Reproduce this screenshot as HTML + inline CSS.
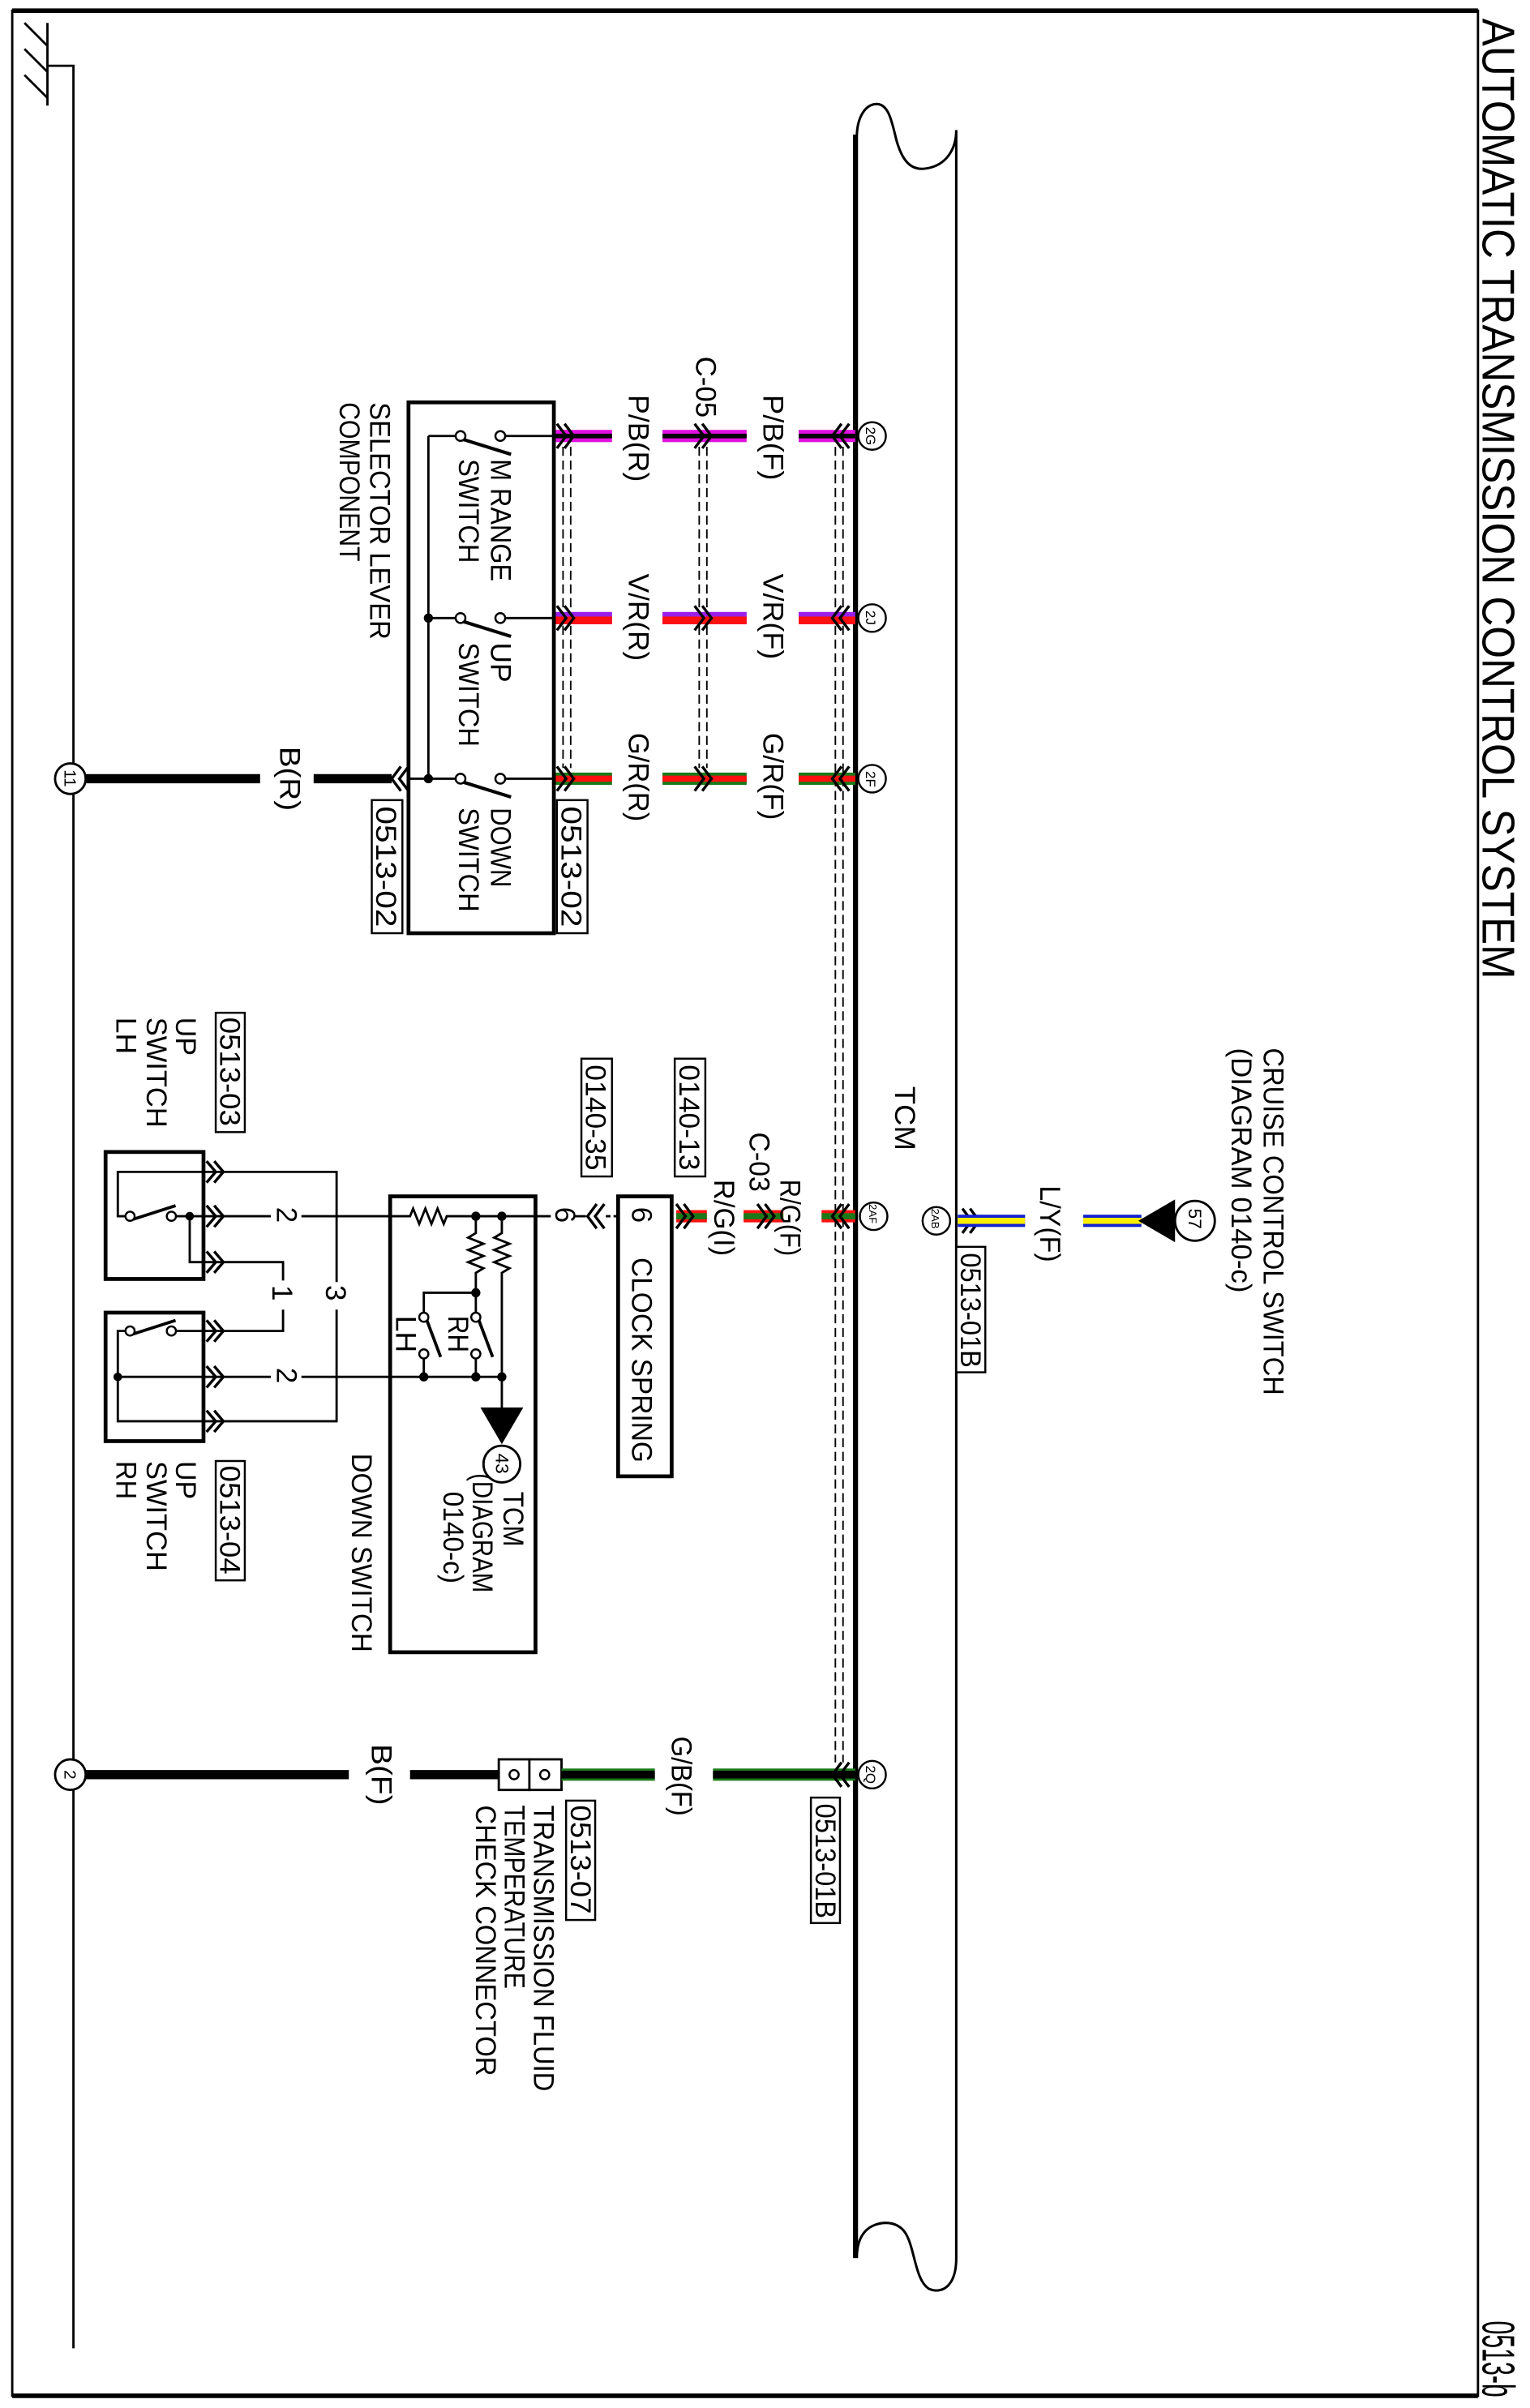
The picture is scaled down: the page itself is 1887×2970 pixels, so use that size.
<!DOCTYPE html>
<html><head><meta charset="utf-8"><style>
html,body{margin:0;padding:0;background:#fff;}
svg{display:block;}
text{font-family:"Liberation Sans",Arial,sans-serif;font-size:18.5px;fill:#000;}
.s{font-size:9px;}
.ln{stroke:#000;stroke-width:1.5;fill:none;}
.dsh{stroke:#000;stroke-width:1;stroke-dasharray:6,3;fill:none;}
.ch{stroke:#000;stroke-width:1.8;fill:none;}
</style></head><body>
<svg width="1887" height="2970" viewBox="0 0 1000 1574" preserveAspectRatio="none" xmlns="http://www.w3.org/2000/svg">
<!-- frame -->
<rect x="8" y="7" width="958" height="1559" fill="none" stroke="#000" stroke-width="1.5"/>
<line x1="8" y1="7" x2="966" y2="7" stroke="#000" stroke-width="3"/>
<line x1="8" y1="1566" x2="966" y2="1566" stroke="#000" stroke-width="3"/>
<!-- title -->
<text transform="translate(969,12) rotate(90)" style="font-size:30px" textLength="628" lengthAdjust="spacingAndGlyphs">AUTOMATIC TRANSMISSION CONTROL SYSTEM</text>
<text transform="translate(969,1517) rotate(90)" style="font-size:30px" textLength="50" lengthAdjust="spacingAndGlyphs">0513-b</text>
<!-- ground -->
<line class="ln" x1="31" y1="15" x2="31" y2="69"/>
<line class="ln" x1="16" y1="15" x2="31" y2="30"/>
<line class="ln" x1="16" y1="32" x2="31" y2="47"/>
<line class="ln" x1="16" y1="49" x2="31" y2="64"/>
<polyline class="ln" points="31,43 48,43 48,1535"/>
<!-- TCM bus -->
<path d="M560,1476 L560,90 C560,76 566,68 573,68 C581,68 583,80 586,92 C590,106 596,112 606,110 C618,108 625,98 625,85 L625,1476 C625,1494 616,1500 607,1496 C598,1490 598,1470 592,1460 C586,1450 572,1452 566,1458 C561,1463 560,1470 560,1476" fill="none" stroke="#000" stroke-width="1.6"/>
<line x1="559" y1="88" x2="559" y2="1476" stroke="#000" stroke-width="3"/>
<text transform="translate(585,710) rotate(90)" textLength="42" lengthAdjust="spacingAndGlyphs">TCM</text>
<!-- shield dashed -->
<line class="dsh" x1="546" y1="292" x2="546" y2="1152"/>
<line class="dsh" x1="551" y1="292" x2="551" y2="1152"/>
<line class="dsh" x1="368" y1="292" x2="368" y2="502"/>
<line class="dsh" x1="373" y1="292" x2="373" y2="502"/>
<line class="dsh" x1="457" y1="292" x2="457" y2="502"/>
<line class="dsh" x1="462" y1="292" x2="462" y2="502"/>

<!-- selector lever wires -->
<g>
<rect x="363" y="281" width="37" height="8" fill="#e010e0"/><rect x="363" y="283.5" width="37" height="3" fill="#000"/>
<rect x="433" y="281" width="55" height="8" fill="#e010e0"/><rect x="433" y="283.5" width="55" height="3" fill="#000"/>
<rect x="522" y="281" width="37" height="8" fill="#e010e0"/><rect x="522" y="283.5" width="37" height="3" fill="#000"/>
</g>
<g>
<rect x="363" y="400" width="37" height="8" fill="#9a1ee8"/><rect x="363" y="403" width="37" height="5" fill="#ff1010"/>
<rect x="433" y="400" width="55" height="8" fill="#9a1ee8"/><rect x="433" y="403" width="55" height="5" fill="#ff1010"/>
<rect x="522" y="400" width="37" height="8" fill="#9a1ee8"/><rect x="522" y="403" width="37" height="5" fill="#ff1010"/>
</g>
<g>
<rect x="363" y="505" width="37" height="8" fill="#1a7a1a"/><rect x="363" y="507" width="37" height="4" fill="#ff1010"/>
<rect x="433" y="505" width="55" height="8" fill="#1a7a1a"/><rect x="433" y="507" width="55" height="4" fill="#ff1010"/>
<rect x="522" y="505" width="37" height="8" fill="#1a7a1a"/><rect x="522" y="507" width="37" height="4" fill="#ff1010"/>
</g>
<g class="ch">
<polyline points="364,277 370,285 364,293"/><polyline points="369,277 375,285 369,293"/>
<polyline points="454,277 460,285 454,293"/><polyline points="459,277 465,285 459,293"/>
<polyline points="550,277 544,285 550,293"/><polyline points="555,277 549,285 555,293"/>
<polyline points="364,396 370,404 364,412"/><polyline points="369,396 375,404 369,412"/>
<polyline points="454,396 460,404 454,412"/><polyline points="459,396 465,404 459,412"/>
<polyline points="550,396 544,404 550,412"/><polyline points="555,396 549,404 555,412"/>
<polyline points="364,501 370,509 364,517"/><polyline points="369,501 375,509 369,517"/>
<polyline points="454,501 460,509 454,517"/><polyline points="459,501 465,509 459,517"/>
<polyline points="550,501 544,509 550,517"/><polyline points="555,501 549,509 555,517"/>
<polyline points="262,501 256,509 262,517"/><polyline points="267,501 261,509 267,517"/>
</g>
<text transform="translate(411,258) rotate(90)" textLength="57" lengthAdjust="spacingAndGlyphs">P/B(R)</text>
<text transform="translate(499,258) rotate(90)" textLength="56" lengthAdjust="spacingAndGlyphs">P/B(F)</text>
<text transform="translate(455,233) rotate(90)" textLength="40" lengthAdjust="spacingAndGlyphs">C-05</text>
<text transform="translate(411,375) rotate(90)" textLength="57" lengthAdjust="spacingAndGlyphs">V/R(R)</text>
<text transform="translate(499,375) rotate(90)" textLength="56" lengthAdjust="spacingAndGlyphs">V/R(F)</text>
<text transform="translate(411,479) rotate(90)" textLength="58" lengthAdjust="spacingAndGlyphs">G/R(R)</text>
<text transform="translate(499,479) rotate(90)" textLength="57" lengthAdjust="spacingAndGlyphs">G/R(F)</text>
<g fill="#fff" stroke="#000" stroke-width="1.3">
<circle cx="570" cy="285" r="9"/><circle cx="570" cy="404" r="9"/><circle cx="570" cy="509" r="9"/>
<circle cx="571" cy="795" r="9"/><circle cx="612" cy="798" r="9"/><circle cx="570" cy="1160" r="9"/>
</g>
<text class="s" transform="translate(566,279) rotate(90)">2G</text>
<text class="s" transform="translate(566,399) rotate(90)">2J</text>
<text class="s" transform="translate(566,504) rotate(90)">2F</text>
<text class="s" transform="translate(568,787) rotate(90)" style="font-size:7px">2AF</text>
<text class="s" transform="translate(609,790) rotate(90)" style="font-size:7px">2AB</text>
<text class="s" transform="translate(566,1154) rotate(90)">2Q</text>

<!-- selector box -->
<rect x="267" y="263" width="95" height="347" fill="none" stroke="#000" stroke-width="2.5"/>
<line class="ln" x1="280" y1="285" x2="280" y2="509"/>
<g class="ln">
<line x1="280" y1="285" x2="298" y2="285"/><line x1="330" y1="285" x2="362" y2="285"/>
<line x1="280" y1="404" x2="298" y2="404"/><line x1="330" y1="404" x2="362" y2="404"/>
<line x1="267" y1="509" x2="298" y2="509"/><line x1="330" y1="509" x2="362" y2="509"/>
<line x1="302" y1="287" x2="334" y2="297" stroke-width="2.2"/>
<line x1="302" y1="406" x2="334" y2="416" stroke-width="2.2"/>
<line x1="302" y1="511" x2="334" y2="521" stroke-width="2.2"/>
</g>
<g fill="#fff" stroke="#000" stroke-width="1.3">
<circle cx="301" cy="285" r="3.2"/><circle cx="327" cy="285" r="3.2"/>
<circle cx="301" cy="404" r="3.2"/><circle cx="327" cy="404" r="3.2"/>
<circle cx="301" cy="509" r="3.2"/><circle cx="327" cy="509" r="3.2"/>
</g>
<circle cx="280" cy="404" r="3" fill="#000"/><circle cx="280" cy="509" r="3" fill="#000"/>
<text transform="translate(321,300) rotate(90)" textLength="80" lengthAdjust="spacingAndGlyphs">M RANGE</text>
<text transform="translate(300,300) rotate(90)" textLength="68" lengthAdjust="spacingAndGlyphs">SWITCH</text>
<text transform="translate(321,420) rotate(90)" textLength="26" lengthAdjust="spacingAndGlyphs">UP</text>
<text transform="translate(300,420) rotate(90)" textLength="68" lengthAdjust="spacingAndGlyphs">SWITCH</text>
<text transform="translate(321,528) rotate(90)" textLength="52" lengthAdjust="spacingAndGlyphs">DOWN</text>
<text transform="translate(300,528) rotate(90)" textLength="68" lengthAdjust="spacingAndGlyphs">SWITCH</text>
<text transform="translate(242,263) rotate(90)" textLength="155" lengthAdjust="spacingAndGlyphs">SELECTOR LEVER</text>
<text transform="translate(222,263) rotate(90)" textLength="104" lengthAdjust="spacingAndGlyphs">COMPONENT</text>
<rect x="243" y="523" width="20" height="87" fill="#fff" stroke="#000" stroke-width="1.3"/>
<text transform="translate(246,527) rotate(90)" textLength="79" lengthAdjust="spacingAndGlyphs">0513-02</text>
<rect x="364" y="523" width="20" height="87" fill="#fff" stroke="#000" stroke-width="1.3"/>
<text transform="translate(367,527) rotate(90)" textLength="79" lengthAdjust="spacingAndGlyphs">0513-02</text>
<line x1="48" y1="509" x2="170" y2="509" stroke="#000" stroke-width="6"/>
<line x1="205" y1="509" x2="256" y2="509" stroke="#000" stroke-width="6"/>
<text transform="translate(183,488) rotate(90)" textLength="42" lengthAdjust="spacingAndGlyphs">B(R)</text>
<circle cx="46" cy="509" r="10" fill="#fff" stroke="#000" stroke-width="1.5"/>
<text class="s" transform="translate(42,503) rotate(90)" style="font-size:11px">11</text>

<!-- cruise / 2AB -->
<g class="ch">
<polyline points="629,790 635,798 629,806"/><polyline points="634,790 640,798 634,806"/>
</g>
<rect x="626" y="794" width="44" height="8" fill="#1020d0"/><rect x="626" y="796" width="44" height="4" fill="#ffee00"/>
<rect x="708" y="794" width="38" height="8" fill="#1020d0"/><rect x="708" y="796" width="38" height="4" fill="#ffee00"/>
<polygon points="744,798 768,784 768,812" fill="#000"/>
<circle cx="781" cy="798" r="13" fill="#fff" stroke="#000" stroke-width="1.5"/>
<text transform="translate(777,790) rotate(90)" style="font-size:12px">57</text>
<text transform="translate(680,775) rotate(90)" textLength="50" lengthAdjust="spacingAndGlyphs">L/Y(F)</text>
<rect x="625" y="815" width="19" height="82" fill="#fff" stroke="#000" stroke-width="1.3"/>
<text transform="translate(628,819) rotate(90)" textLength="75" lengthAdjust="spacingAndGlyphs">0513-01B</text>
<text transform="translate(826,685) rotate(90)" textLength="227" lengthAdjust="spacingAndGlyphs">CRUISE CONTROL SWITCH</text>
<text transform="translate(805,685) rotate(90)" textLength="160" lengthAdjust="spacingAndGlyphs">(DIAGRAM 0140-c)</text>

<!-- R/G 2AF -->
<rect x="442" y="791" width="20" height="8" fill="#ff1010"/><rect x="442" y="793" width="20" height="4" fill="#1a7a1a"/>
<rect x="486" y="791" width="26" height="8" fill="#ff1010"/><rect x="486" y="793" width="26" height="4" fill="#1a7a1a"/>
<rect x="537" y="791" width="22" height="8" fill="#ff1010"/><rect x="537" y="793" width="22" height="4" fill="#1a7a1a"/>
<g class="ch">
<polyline points="442,787 448,795 442,803"/><polyline points="447,787 453,795 447,803"/>
<polyline points="495,787 501,795 495,803"/><polyline points="500,787 506,795 500,803"/>
<polyline points="550,787 544,795 550,803"/><polyline points="555,787 549,795 555,803"/>
<polyline points="390,787 384,795 390,803"/><polyline points="395,787 389,795 395,803"/>
</g>
<text transform="translate(510,771) rotate(90)" textLength="50" lengthAdjust="spacingAndGlyphs">R/G(F)</text>
<text transform="translate(490,740) rotate(90)" textLength="39" lengthAdjust="spacingAndGlyphs">C-03</text>
<text transform="translate(467,771) rotate(90)" textLength="50" lengthAdjust="spacingAndGlyphs">R/G(I)</text>
<rect x="441" y="692" width="20" height="77" fill="#fff" stroke="#000" stroke-width="1.3"/>
<text transform="translate(444,696) rotate(90)" textLength="69" lengthAdjust="spacingAndGlyphs">0140-13</text>
<rect x="380" y="692" width="20" height="77" fill="#fff" stroke="#000" stroke-width="1.3"/>
<text transform="translate(383,696) rotate(90)" textLength="69" lengthAdjust="spacingAndGlyphs">0140-35</text>
<rect x="404" y="782" width="35" height="183" fill="none" stroke="#000" stroke-width="2.5"/>
<text transform="translate(413,789) rotate(90)">6</text>
<text transform="translate(413,822) rotate(90)" textLength="134" lengthAdjust="spacingAndGlyphs">CLOCK SPRING</text>
<text transform="translate(363,789) rotate(90)">6</text>
<line class="ln" x1="375" y1="795" x2="383" y2="795"/>
<line class="ln" x1="396" y1="795" x2="404" y2="795" stroke-dasharray="3,2"/>
<!-- down switch -->
<rect x="255" y="782" width="95" height="298" fill="none" stroke="#000" stroke-width="2.5"/>
<polyline class="ln" points="133,795 177,795"/>
<polyline class="ln" points="197,795 268,795 270,790 274,800 278,790 282,800 286,790 290,800 292,795 360,795"/>
<circle cx="311" cy="795" r="3" fill="#000"/><circle cx="328" cy="795" r="3" fill="#000"/>
<polyline class="ln" points="311,795 311,806 306,809 316,813 306,817 316,821 306,825 316,829 311,832 311,845"/>
<polyline class="ln" points="328,795 328,806 323,809 333,813 323,817 333,821 323,825 333,829 328,832 328,900 328,920"/>
<circle cx="311" cy="845" r="3" fill="#000"/>
<polyline class="ln" points="311,845 277,845 277,858"/>
<line class="ln" x1="311" y1="845" x2="311" y2="858"/>
<g fill="#fff" stroke="#000" stroke-width="1.3">
<circle cx="277" cy="861" r="3"/><circle cx="277" cy="885" r="3"/>
<circle cx="311" cy="861" r="3"/><circle cx="311" cy="885" r="3"/>
</g>
<line x1="279" y1="863" x2="288" y2="887" stroke="#000" stroke-width="2"/>
<line x1="313" y1="863" x2="322" y2="887" stroke="#000" stroke-width="2"/>
<line class="ln" x1="277" y1="888" x2="277" y2="900"/>
<line class="ln" x1="311" y1="888" x2="311" y2="900"/>
<polyline class="ln" points="133,900 177,900"/>
<polyline class="ln" points="197,900 328,900"/>
<circle cx="277" cy="900" r="3" fill="#000"/><circle cx="311" cy="900" r="3" fill="#000"/><circle cx="328" cy="900" r="3" fill="#000"/>
<polygon points="314,920 342,920 328,944" fill="#000"/>
<circle cx="328" cy="957" r="12" fill="#fff" stroke="#000" stroke-width="1.5"/>
<text transform="translate(324,950) rotate(90)" style="font-size:12px">43</text>
<text transform="translate(293,860) rotate(90)" textLength="24" lengthAdjust="spacingAndGlyphs">RH</text>
<text transform="translate(259,860) rotate(90)" textLength="24" lengthAdjust="spacingAndGlyphs">LH</text>
<text transform="translate(329,975) rotate(90)" textLength="36" lengthAdjust="spacingAndGlyphs">TCM</text>
<text transform="translate(309,963) rotate(90)" textLength="78" lengthAdjust="spacingAndGlyphs">(DIAGRAM</text>
<text transform="translate(290,975) rotate(90)" textLength="60" lengthAdjust="spacingAndGlyphs">0140-c)</text>
<text transform="translate(230,950) rotate(90)" textLength="130" lengthAdjust="spacingAndGlyphs">DOWN SWITCH</text>
<!-- up switches -->
<rect x="69" y="753" width="64" height="83" fill="none" stroke="#000" stroke-width="2.5"/>
<rect x="69" y="858" width="64" height="84" fill="none" stroke="#000" stroke-width="2.5"/>
<polyline class="ln" points="133,766 220,766 220,838"/>
<polyline class="ln" points="220,856 220,929 133,929"/>
<polyline class="ln" points="133,825 185,825 185,837"/>
<polyline class="ln" points="185,856 185,870 133,870"/>
<polyline class="ln" points="133,766 77,766 77,795 82,795"/>
<line class="ln" x1="112" y1="795" x2="133" y2="795"/>
<circle cx="124" cy="795" r="2.8" fill="#000"/>
<polyline class="ln" points="124,795 124,825 133,825"/>
<line x1="87" y1="797" x2="114" y2="808" stroke="#000" stroke-width="2" transform="rotate(-40 87 797)"/>
<g fill="#fff" stroke="#000" stroke-width="1.3"><circle cx="85" cy="795" r="3"/><circle cx="112" cy="795" r="3"/></g>
<line class="ln" x1="112" y1="870" x2="133" y2="870"/>
<polyline class="ln" points="82,870 77,870 77,929 133,929"/>
<line class="ln" x1="77" y1="900" x2="133" y2="900"/>
<circle cx="77" cy="900" r="2.8" fill="#000"/>
<line x1="87" y1="872" x2="114" y2="883" stroke="#000" stroke-width="2" transform="rotate(-40 87 872)"/>
<g fill="#fff" stroke="#000" stroke-width="1.3"><circle cx="85" cy="870" r="3"/><circle cx="112" cy="870" r="3"/></g>
<g class="ch">
<polyline points="135,759 141,766 135,773"/><polyline points="140,759 146,766 140,773"/>
<polyline points="135,788 141,795 135,802"/><polyline points="140,788 146,795 140,802"/>
<polyline points="135,818 141,825 135,832"/><polyline points="140,818 146,825 140,832"/>
<polyline points="135,863 141,870 135,877"/><polyline points="140,863 146,870 140,877"/>
<polyline points="135,893 141,900 135,907"/><polyline points="140,893 146,900 140,907"/>
<polyline points="135,922 141,929 135,936"/><polyline points="140,922 146,929 140,936"/>
</g>
<text transform="translate(181,789) rotate(90)">2</text>
<text transform="translate(181,894) rotate(90)">2</text>
<text transform="translate(178,840) rotate(90)">1</text>
<text transform="translate(213,840) rotate(90)">3</text>
<rect x="141" y="662" width="19" height="78" fill="#fff" stroke="#000" stroke-width="1.3"/>
<text transform="translate(144,665) rotate(90)" textLength="71" lengthAdjust="spacingAndGlyphs">0513-03</text>
<text transform="translate(115,665) rotate(90)" textLength="25" lengthAdjust="spacingAndGlyphs">UP</text>
<text transform="translate(96,665) rotate(90)" textLength="72" lengthAdjust="spacingAndGlyphs">SWITCH</text>
<text transform="translate(76,665) rotate(90)" textLength="24" lengthAdjust="spacingAndGlyphs">LH</text>
<rect x="141" y="955" width="19" height="78" fill="#fff" stroke="#000" stroke-width="1.3"/>
<text transform="translate(144,958) rotate(90)" textLength="71" lengthAdjust="spacingAndGlyphs">0513-04</text>
<text transform="translate(115,955) rotate(90)" textLength="25" lengthAdjust="spacingAndGlyphs">UP</text>
<text transform="translate(96,955) rotate(90)" textLength="72" lengthAdjust="spacingAndGlyphs">SWITCH</text>
<text transform="translate(76,955) rotate(90)" textLength="25" lengthAdjust="spacingAndGlyphs">RH</text>

<!-- bottom row -->
<line x1="48" y1="1160" x2="228" y2="1160" stroke="#000" stroke-width="6"/>
<line x1="268" y1="1160" x2="326" y2="1160" stroke="#000" stroke-width="6"/>
<text transform="translate(243,1140) rotate(90)" textLength="40" lengthAdjust="spacingAndGlyphs">B(F)</text>
<circle cx="46" cy="1160" r="10" fill="#fff" stroke="#000" stroke-width="1.5"/>
<text class="s" transform="translate(42,1157) rotate(90)" style="font-size:11px">2</text>
<rect x="326" y="1150" width="20" height="20" fill="#fff" stroke="#000" stroke-width="1.5"/>
<rect x="346" y="1150" width="21" height="20" fill="#fff" stroke="#000" stroke-width="1.5"/>
<circle cx="336" cy="1160" r="3" fill="#fff" stroke="#000" stroke-width="1.3"/>
<circle cx="356" cy="1160" r="3" fill="#fff" stroke="#000" stroke-width="1.3"/>
<rect x="367" y="1156" width="61" height="8" fill="#1a7a1a"/><rect x="367" y="1157.5" width="61" height="5" fill="#000"/>
<rect x="466" y="1156" width="93" height="8" fill="#1a7a1a"/><rect x="466" y="1157.5" width="93" height="5" fill="#000"/>
<g class="ch">
<polyline points="550,1152 544,1160 550,1168"/><polyline points="555,1152 549,1160 555,1168"/>
</g>
<text transform="translate(439,1135) rotate(90)" textLength="52" lengthAdjust="spacingAndGlyphs">G/B(F)</text>
<rect x="370" y="1177" width="19" height="78" fill="#fff" stroke="#000" stroke-width="1.3"/>
<text transform="translate(373,1180) rotate(90)" textLength="71" lengthAdjust="spacingAndGlyphs">0513-07</text>
<rect x="530" y="1175" width="19" height="82" fill="#fff" stroke="#000" stroke-width="1.3"/>
<text transform="translate(533,1179) rotate(90)" textLength="75" lengthAdjust="spacingAndGlyphs">0513-01B</text>
<text transform="translate(349,1180) rotate(90)" textLength="187" lengthAdjust="spacingAndGlyphs">TRANSMISSION FLUID</text>
<text transform="translate(330,1180) rotate(90)" textLength="120" lengthAdjust="spacingAndGlyphs">TEMPERATURE</text>
<text transform="translate(311,1180) rotate(90)" textLength="177" lengthAdjust="spacingAndGlyphs">CHECK CONNECTOR</text>
</svg>
</body></html>
